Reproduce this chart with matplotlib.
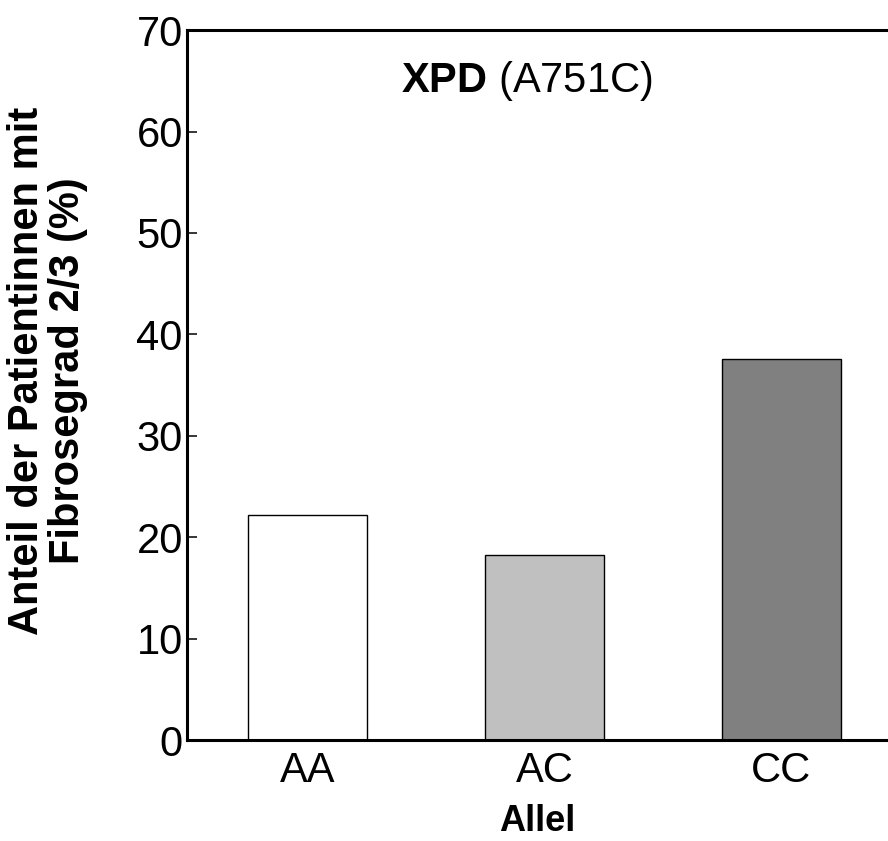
import matplotlib.pyplot as plt

plt.rcParams['font.family'] = ['Liberation Sans', 'DejaVu Sans']
plt.rcParams['mathtext.fontset'] = 'custom'
plt.rcParams['mathtext.rm'] = 'Liberation Sans'
plt.rcParams['mathtext.bf'] = 'Liberation Sans:bold'

alleles = ["AA", "AC", "CC"]
anteil = [22.2, 18.2, 37.6]
farben = ["#ffffff", "#c0c0c0", "#808080"]
yticks = [0, 10, 20, 30, 40, 50, 60, 70]

fig = plt.figure(figsize=(8.88, 8.41), dpi=100)
ax = fig.add_axes([0.2106, 0.120, 0.7894, 0.8442])

x = range(len(alleles))
ax.bar(x, anteil, width=0.5, color=farben, edgecolor="black", linewidth=1.0)

ax.set_xlim(-0.508, 2.45)
ax.set_ylim(0, 70)
ax.set_xticks(list(x))
ax.set_xticklabels(alleles)
ax.set_yticks(yticks)
ax.tick_params(axis="x", length=0, labelsize=30, pad=8)
ax.tick_params(axis="y", direction="in", length=7, width=1.1, labelsize=30, pad=3)

for s in ["left", "bottom", "top"]:
    ax.spines[s].set_linewidth(2.2)
ax.spines["right"].set_visible(False)

ax.set_xlabel("Allel", fontsize=26, fontweight="bold", labelpad=9)
ax.set_ylabel("Anteil der Patientinnen mit\nFibrosegrad 2/3 (%)", fontsize=30,
              fontweight="bold", linespacing=1.05)
ax.yaxis.set_label_coords(-0.141, 0.52)

ax.text(0.926, 65.0, r"$\bf{XPD}$ (A751C)", fontsize=30, ha="center", va="center")

fig.savefig("out.png", dpi=100)
